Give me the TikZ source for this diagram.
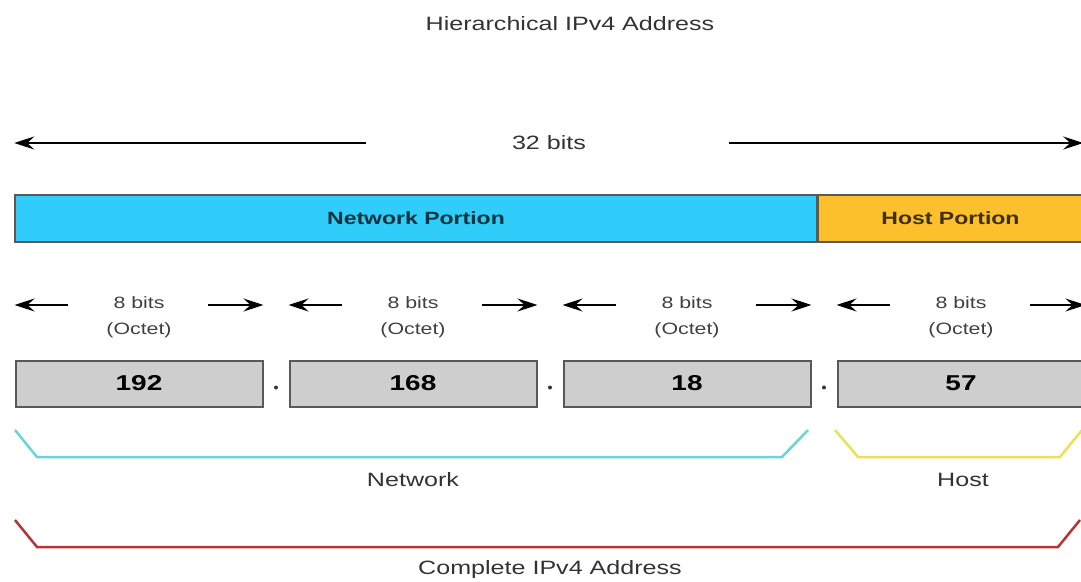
\documentclass[tikz,border=0pt]{standalone}
\usepackage{fontspec}
\newfontfamily\diagfont{Liberation Sans}[FakeStretch=1.3]
\usetikzlibrary{arrows.meta,positioning,calc}

\definecolor{netblue}{RGB}{48,204,250}
\definecolor{hostgold}{RGB}{252,192,45}
\definecolor{boxgray}{RGB}{206,206,206}
\definecolor{netline}{RGB}{104,212,222}
\definecolor{hostline}{RGB}{236,224,84}
\definecolor{fullline}{RGB}{184,52,52}

\begin{document}
\begin{tikzpicture}[x=1pt, y=-1pt, >={Stealth[length=20pt,width=13pt,inset=7pt]},
	lbl/.style={font=\diagfont\fontsize{19.3}{23}\selectfont, text=black!80},
	portion/.style={draw=black!65, line width=1.5pt, minimum height=47pt, inner sep=0pt,
		font=\diagfont\bfseries\fontsize{17.7}{20}\selectfont},
	octet/.style={draw=black!65, fill=boxgray, line width=2pt, minimum width=247pt,
		minimum height=46pt, inner sep=0pt, font=\diagfont\bfseries\fontsize{21.5}{24}\selectfont},
	octlbl/.style={font=\diagfont\fontsize{16.4}{26}\selectfont, text=black!75, align=center},
	dotmark/.style={circle, fill=black!80, inner sep=0pt, minimum size=4pt},
	dim/.style={->, line width=2pt},
	brace/.style={line width=2.5pt}]
	\useasboundingbox (0,0) rectangle (1081,581);

	% Nodes {title, portions, octets}
	\node [lbl] 											(title) 	at (570,24) 	{Hierarchical IPv4 Address};
	\node [lbl] 											(bits32) 	at (549,143) 	{32 bits};
	\node [portion, fill=netblue, text=netblue!25!black, minimum width=802pt] 	(net) 	at (416,218.5) 	{Network Portion};
	\node [portion, fill=hostgold, text=hostgold!25!black, minimum width=264pt] 	(host) 	[right=0pt of net] 	{Host Portion};

	\node [octet] 						(o1) 	at (139,383.5) 	{192};
	\node [octet] 						(o2) 	[right=25pt of o1] 	{168};
	\node [octet] 						(o3) 	[right=25pt of o2] 	{18};
	\node [octet] 						(o4) 	[right=25pt of o3] 	{57};

	\node [dotmark, yshift=-4pt] 		(dot1) 	at ($(o1.east)!0.5!(o2.west)$) 	{};
	\node [dotmark, yshift=-4pt] 		(dot2) 	at ($(o2.east)!0.5!(o3.west)$) 	{};
	\node [dotmark, yshift=-4pt] 		(dot3) 	at ($(o3.east)!0.5!(o4.west)$) 	{};

	\node [octlbl] 						(b1) 	at (o1 |- 0,317) 	{8 bits\\(Octet)};
	\node [octlbl] 						(b2) 	at (o2 |- 0,317) 	{8 bits\\(Octet)};
	\node [octlbl] 						(b3) 	at (o3 |- 0,317) 	{8 bits\\(Octet)};
	\node [octlbl] 						(b4) 	at (o4 |- 0,317) 	{8 bits\\(Octet)};

	\node [lbl] 						(netlbl) 	at (413,480) 	{Network};
	\node [lbl] 						(hostlbl) 	at (963,480) 	{Host};
	\node [lbl] 						(full) 		at (550,570) 	{Complete IPv4 Address};

	% Paths
	\draw [dim] 	([xshift=-143pt]bits32.west) 	-- (bits32.west -| net.west);
	\draw [dim] 	([xshift=139pt]bits32.east) 	-- (bits32.east -| host.east);

	\draw [dim] 	(o1.west |- 0,305) ++(53,0) 	-- ++(-53,0);
	\draw [dim] 	(o1.east |- 0,305) ++(-56,0) 	-- ++(56,0);
	\draw [dim] 	(o2.west |- 0,305) ++(53,0) 	-- ++(-53,0);
	\draw [dim] 	(o2.east |- 0,305) ++(-56,0) 	-- ++(56,0);
	\draw [dim] 	(o3.west |- 0,305) ++(53,0) 	-- ++(-53,0);
	\draw [dim] 	(o3.east |- 0,305) ++(-56,0) 	-- ++(56,0);
	\draw [dim] 	(o4.west |- 0,305) ++(53,0) 	-- ++(-53,0);
	\draw [dim] 	(o4.east |- 0,305) ++(-56,0) 	-- ++(56,0);

	% Brackets
	\draw [brace, draw=netline] 	(15,430) -- (37,457) -- (782,457) -- (808,430);
	\draw [brace, draw=hostline] 	(835,430) -- (858,457) -- (1060,457) -- (1082,430);
	\draw [brace, draw=fullline] 	(15,520) -- (37,547) -- (1058,547) -- (1080,520);

\end{tikzpicture}
\end{document}
